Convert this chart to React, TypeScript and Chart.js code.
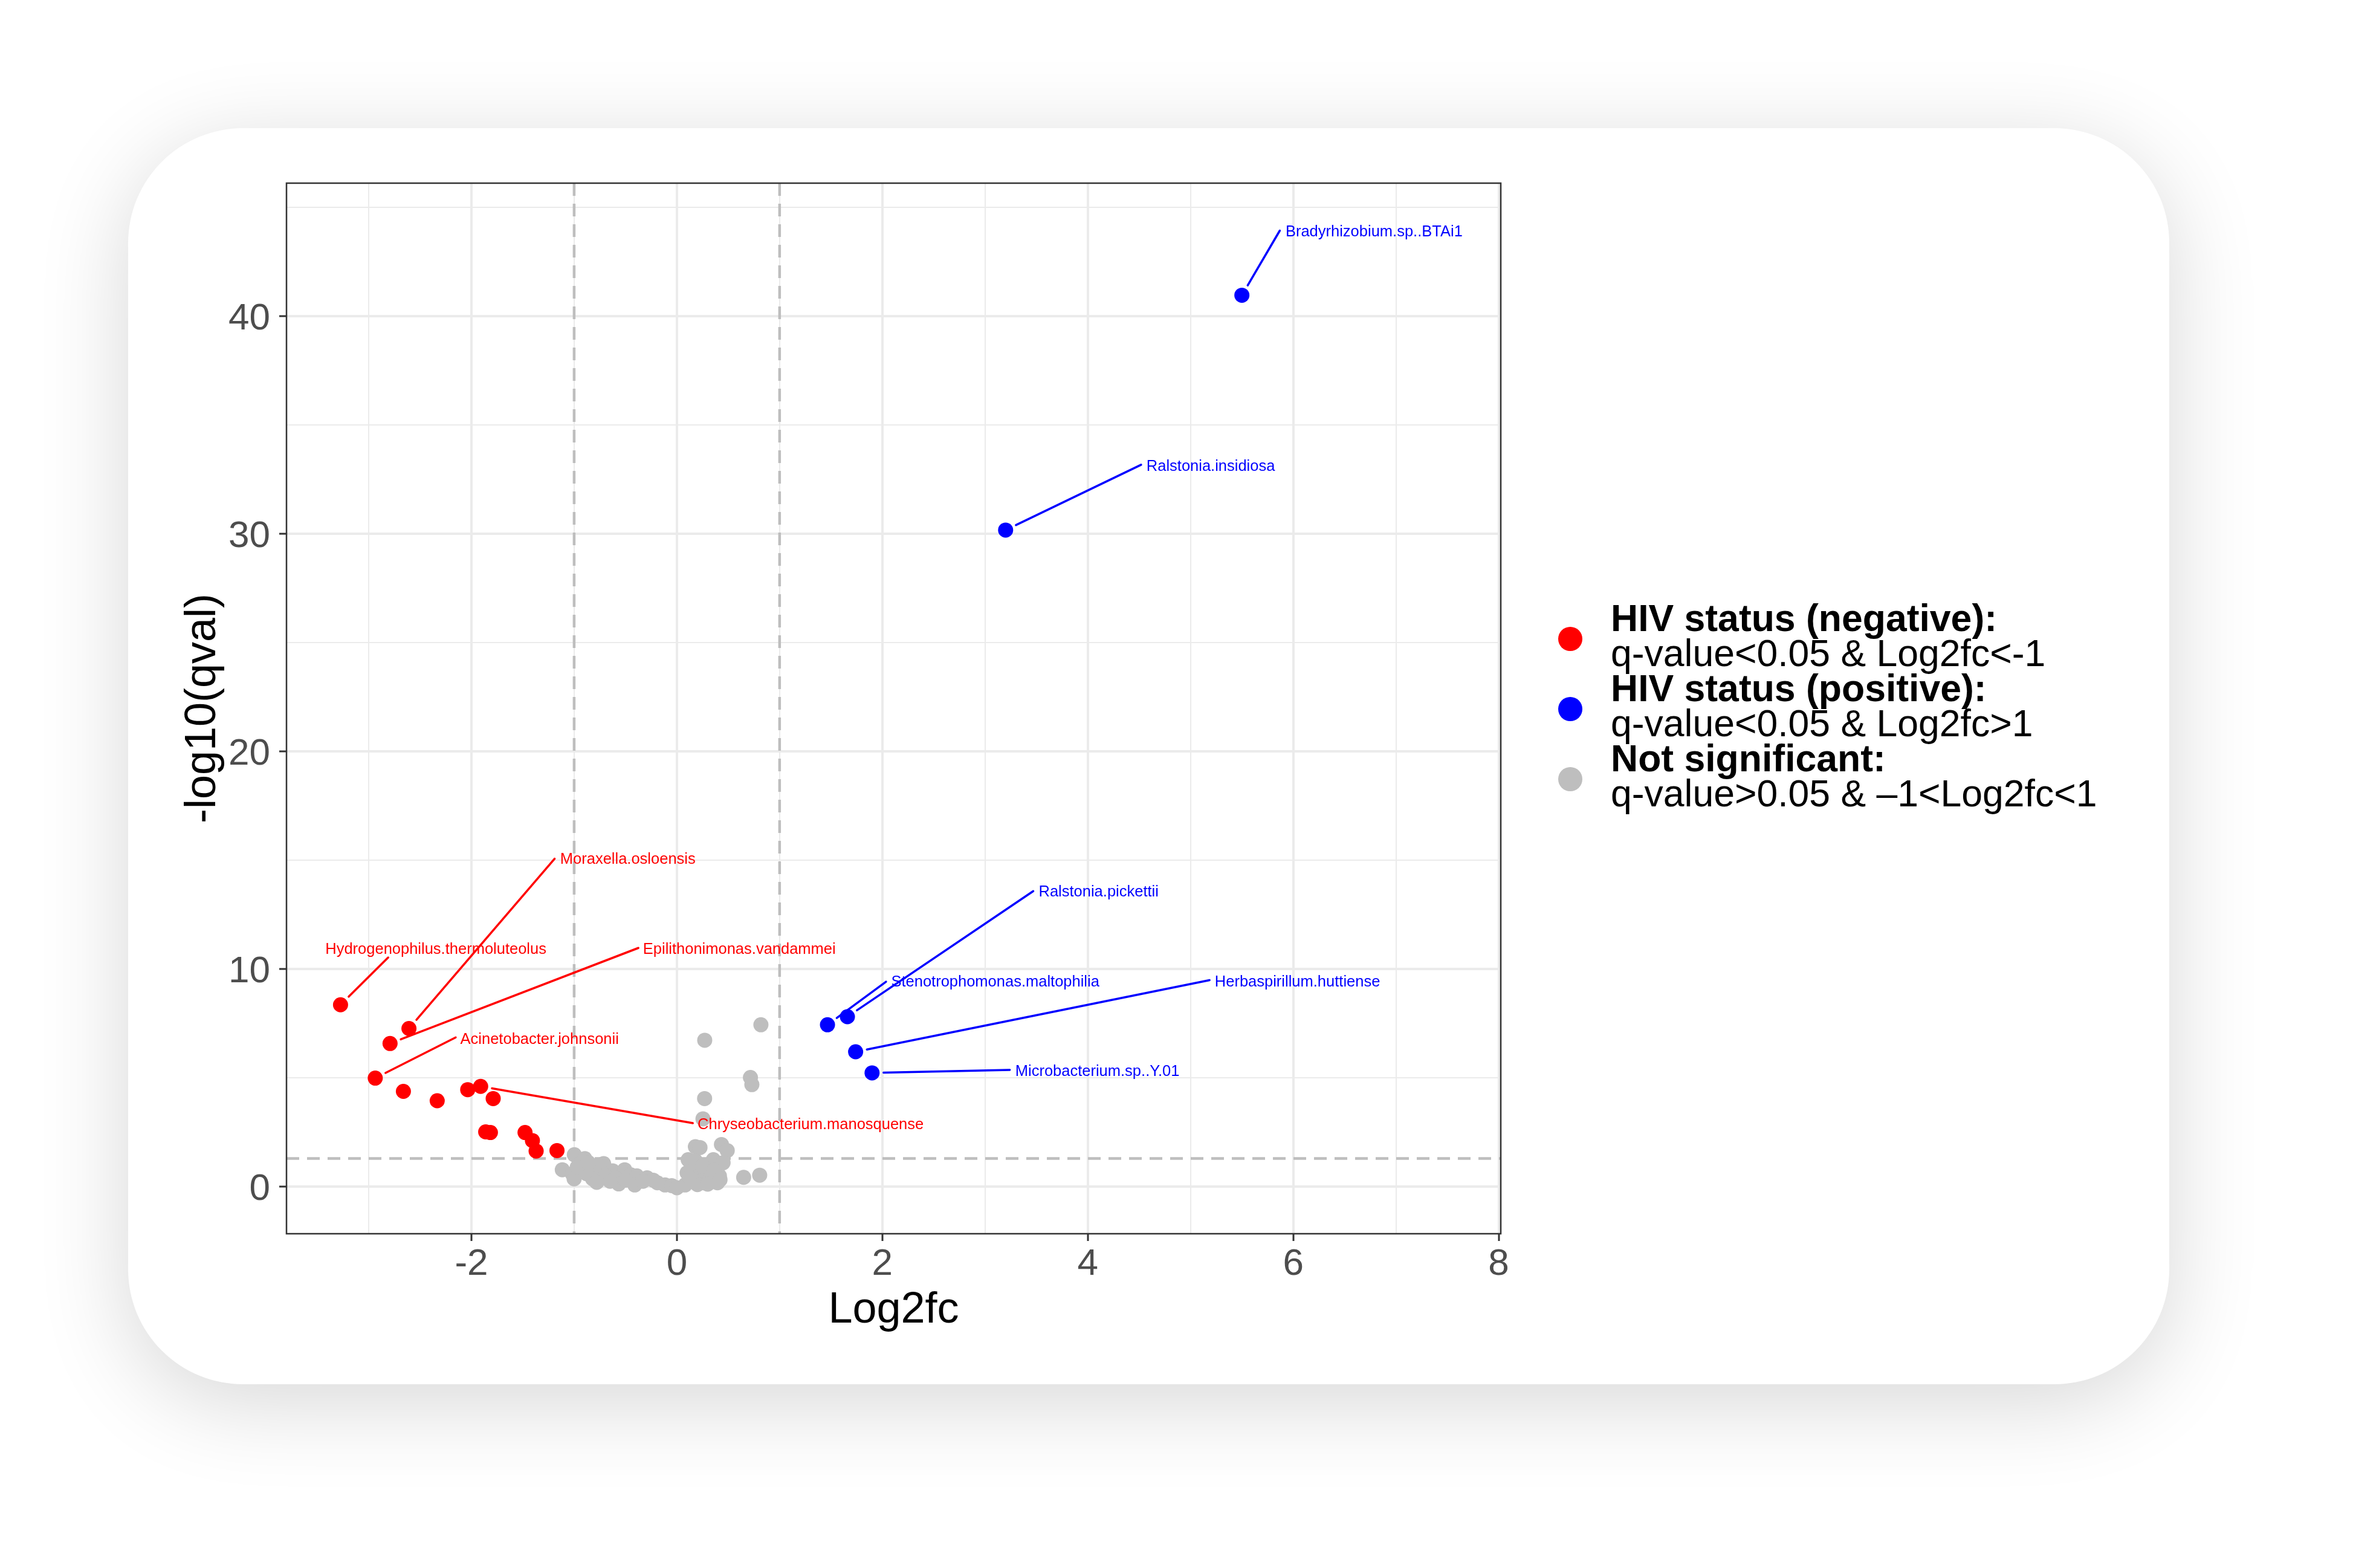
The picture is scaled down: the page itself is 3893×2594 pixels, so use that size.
import React, { useEffect, useRef } from 'react';
import { Chart, registerables } from 'chart.js';

Chart.register(...registerables);

const FONT = '"Liberation Sans", Arial, Helvetica, sans-serif';
const RED = '#FF0000';
const BLUE = '#0000FF';
const GRAY = '#BEBEBE';

// HIV status (negative): q<0.05 & Log2fc<-1
const negLog2fc = [-3.274, -2.608, -2.792, -2.936, -2.662, -2.333, -2.036, -1.91, -1.788, -1.861, -1.815, -1.478, -1.406, -1.37, -1.167];
const negQ = [8.36, 7.27, 6.58, 4.99, 4.38, 3.95, 4.46, 4.61, 4.05, 2.52, 2.49, 2.49, 2.12, 1.64, 1.66];

// HIV status (positive): q<0.05 & Log2fc>1
const posLog2fc = [1.466, 1.66, 1.74, 1.9, 3.2, 5.5];
const posQ = [7.44, 7.81, 6.2, 5.23, 30.17, 40.96];

// Not significant
const nsLog2fc = [
  0.818, 0.271, 0.716, 0.73, 0.27, 0.254, 0.18, 0.225, 0.434, 0.49,
  0.11, 0.18, 0.355, 0.45, 0.22, 0.1, 0.28, 0.414, 0.16, 0.257,
  0.316, 0.395, 0.08, 0.2, 0.3, 0.12, 0.25, 0.36, 0.42, 0.65,
  0.806, -0.998, -0.896, -1.115, -1.017, -1.0, -0.95, -0.82, -0.713, -0.82,
  -0.76, -0.625, -0.508, -0.566, -0.6, -0.45, -0.39, -0.29, -0.41, -0.33,
  -0.19, -0.23, -0.115, -0.05, 0.0, -0.7, -0.88, -0.97, -0.65, -0.5,
  -0.86, -0.78,
];
const nsQ = [
  7.44, 6.73, 5.02, 4.69, 4.05, 3.12, 1.84, 1.8, 1.94, 1.66,
  1.24, 1.19, 1.24, 1.1, 0.83, 0.64, 0.55, 0.5, 0.27, 0.18,
  0.27, 0.18, 0.08, 0.1, 0.12, 0.45, 0.95, 0.75, 0.32, 0.43,
  0.53, 1.47, 1.29, 0.78, 0.59, 0.36, 1.05, 0.36, 1.06, 0.83,
  0.95, 0.73, 0.78, 0.13, 0.4, 0.55, 0.5, 0.41, 0.08, 0.25,
  0.18, 0.3, 0.08, 0.05, -0.05, 0.5, 0.6, 0.9, 0.25, 0.3,
  1.1, 0.2,
];

// Labelled taxa (ggrepel-style labels)
const labelText = [
  'Bradyrhizobium.sp..BTAi1',
  'Ralstonia.insidiosa',
  'Ralstonia.pickettii',
  'Stenotrophomonas.maltophilia',
  'Herbaspirillum.huttiense',
  'Microbacterium.sp..Y.01',
  'Moraxella.osloensis',
  'Hydrogenophilus.thermoluteolus',
  'Epilithonimonas.vandammei',
  'Acinetobacter.johnsonii',
  'Chryseobacterium.manosquense',
];
const labelGroup = ['pos', 'pos', 'pos', 'pos', 'pos', 'pos', 'neg', 'neg', 'neg', 'neg', 'neg'];
const labelPoint = [5, 4, 1, 0, 2, 3, 1, 0, 2, 3, 7];
const labelTextX = [5.925, 4.571, 3.522, 2.086, 5.236, 3.294, -1.136, -3.422, -0.33, -2.108, 0.201];
const labelTextY = [43.93, 33.15, 13.58, 9.45, 9.45, 5.33, 15.08, 10.95, 10.94, 6.825, 2.9];
const segStartX = [5.869, 4.519, 3.469, 2.036, 5.185, 3.241, -1.19, -2.81, -0.375, -2.153, 0.155];
const segStartY = [43.93, 33.17, 13.58, 9.42, 9.49, 5.37, 15.07, 10.53, 10.97, 6.86, 2.92];

const xTickValues = [-3, -2, -1, 0, 1, 2, 3, 4, 5, 6, 7, 8];
const xTickLabels = ['', '-2', '', '0', '', '2', '', '4', '', '6', '', '8'];
const yTickValues = [0, 5, 10, 15, 20, 25, 30, 35, 40, 45];
const yTickLabels = ['0', '', '10', '', '20', '', '30', '', '40', ''];
const xRange = [-3.8, 8.02];
const yRange = [-2.16, 46.11];
const fcCutoffs = [-1, 1];
const qCutoff = 0.05;

const legendTitles = ['HIV status (negative):', 'HIV status (positive):', 'Not significant:'];
const legendDescs = ['q-value<0.05 & Log2fc<-1', 'q-value<0.05 & Log2fc>1', 'q-value>0.05 & \u20131<Log2fc<1'];
const legendColors = [RED, BLUE, GRAY];

const thresholdPlugin = {
  id: 'thresholds',
  beforeDatasetsDraw(chart: any) {
    const { ctx, chartArea: a, scales } = chart;
    const x = scales.x;
    const y = scales.y;
    ctx.save();
    ctx.beginPath();
    ctx.rect(a.left, a.top, a.right - a.left, a.bottom - a.top);
    ctx.clip();
    ctx.strokeStyle = GRAY;
    ctx.lineWidth = 4.5;
    ctx.setLineDash([21, 13]);
    fcCutoffs.forEach((v) => {
      const px = x.getPixelForValue(v);
      ctx.beginPath();
      ctx.moveTo(px, a.top);
      ctx.lineTo(px, a.bottom);
      ctx.stroke();
    });
    const py = y.getPixelForValue(-Math.log10(qCutoff));
    ctx.beginPath();
    ctx.moveTo(a.left, py);
    ctx.lineTo(a.right, py);
    ctx.stroke();
    ctx.restore();
  },
};

const labelPlugin = {
  id: 'repelLabels',
  afterDatasetsDraw(chart: any) {
    const { ctx, scales } = chart;
    const x = scales.x;
    const y = scales.y;
    ctx.save();
    ctx.font = `25.5px ${FONT}`;
    ctx.textBaseline = 'middle';
    ctx.textAlign = 'left';
    labelText.forEach((t, i) => {
      const isPos = labelGroup[i] === 'pos';
      const color = isPos ? BLUE : RED;
      const pxv = isPos ? posLog2fc[labelPoint[i]] : negLog2fc[labelPoint[i]];
      const pyv = isPos ? posQ[labelPoint[i]] : negQ[labelPoint[i]];
      const tx = x.getPixelForValue(pxv);
      const ty = y.getPixelForValue(pyv);
      const sx = x.getPixelForValue(segStartX[i]);
      const sy = y.getPixelForValue(segStartY[i]);
      const dx = tx - sx;
      const dy = ty - sy;
      const d = Math.hypot(dx, dy) || 1;
      const ex = tx - (dx / d) * 19;
      const ey = ty - (dy / d) * 19;
      ctx.strokeStyle = color;
      ctx.lineWidth = 3.5;
      ctx.lineCap = 'round';
      ctx.beginPath();
      ctx.moveTo(sx, sy);
      ctx.lineTo(ex, ey);
      ctx.stroke();
      ctx.fillStyle = color;
      ctx.fillText(t, x.getPixelForValue(labelTextX[i]), y.getPixelForValue(labelTextY[i]) + 2);
    });
    ctx.restore();
  },
};

const framePlugin = {
  id: 'panelFrame',
  afterDraw(chart: any) {
    const { ctx, chartArea: a } = chart;
    ctx.save();
    ctx.strokeStyle = '#333333';
    ctx.lineWidth = 2.5;
    ctx.strokeRect(a.left, a.top, a.right - a.left, a.bottom - a.top);
    ctx.restore();
  },
};

const legendPlugin = {
  id: 'sideLegend',
  afterDraw(chart: any) {
    const { ctx, chartArea: a } = chart;
    const dotX = a.right + 115;
    const textX = a.right + 182;
    const firstBaseline = a.top + 741;
    const step = 116;
    const lineGap = 57.5;
    ctx.save();
    ctx.textAlign = 'left';
    ctx.textBaseline = 'alphabetic';
    legendTitles.forEach((title, i) => {
      const base = firstBaseline + i * step;
      ctx.fillStyle = legendColors[i];
      ctx.beginPath();
      ctx.arc(dotX, base + 13, 20, 0, Math.PI * 2);
      ctx.fill();
      ctx.fillStyle = '#000000';
      ctx.font = `bold 62.5px ${FONT}`;
      ctx.fillText(title, textX, base);
      ctx.font = `62.5px ${FONT}`;
      ctx.fillText(legendDescs[i], textX, base + lineGap);
    });
    ctx.restore();
  },
};

export default function App() {
  const ref = useRef<HTMLCanvasElement>(null);

  useEffect(() => {
    const canvas = ref.current;
    if (!canvas) return;
    const toPts = (xs: number[], ys: number[]) => xs.map((v, i) => ({ x: v, y: ys[i] }));
    const pointStyle = { pointRadius: 12.5, pointHoverRadius: 12.5, borderWidth: 0 };
    const chart = new Chart(canvas, {
      type: 'scatter',
      data: {
        datasets: [
          { label: legendTitles[0], data: toPts(negLog2fc, negQ), backgroundColor: RED, ...pointStyle },
          { label: legendTitles[1], data: toPts(posLog2fc, posQ), backgroundColor: BLUE, ...pointStyle },
          { label: legendTitles[2], data: toPts(nsLog2fc, nsQ), backgroundColor: GRAY, ...pointStyle },
        ],
      },
      options: {
        responsive: false,
        animation: false,
        devicePixelRatio: 1,
        events: [],
        layout: { padding: { left: 0, top: 303, right: 1410, bottom: 353 } },
        plugins: { legend: { display: false }, tooltip: { enabled: false } },
        scales: {
          x: {
            type: 'linear',
            min: xRange[0],
            max: xRange[1],
            afterBuildTicks: (s: any) => {
              s.ticks = xTickValues.map((v) => ({ value: v }));
            },
            afterFit: (s: any) => {
              s.height = 200;
            },
            ticks: {
              callback: (_v: any, i: number) => xTickLabels[i] ?? '',
              autoSkip: false,
              maxRotation: 0,
              color: '#4D4D4D',
              font: { size: 62, lineHeight: 1, family: FONT },
              padding: 8,
            },
            grid: {
              color: '#EBEBEB',
              lineWidth: (c: any) => (xTickLabels[c.index] ? 4 : 2),
              tickLength: 12,
              tickWidth: 3,
              tickColor: (c: any) => (xTickLabels[c.index] ? '#333333' : 'rgba(0,0,0,0)'),
            },
            border: { display: false },
            title: {
              display: true,
              text: 'Log2fc',
              color: '#000000',
              font: { size: 72, family: FONT },
              padding: { top: 0, bottom: 30 },
            },
          },
          y: {
            type: 'linear',
            min: yRange[0],
            max: yRange[1],
            afterBuildTicks: (s: any) => {
              s.ticks = yTickValues.map((v) => ({ value: v }));
            },
            afterFit: (s: any) => {
              s.width = 474;
            },
            ticks: {
              callback: (_v: any, i: number) => yTickLabels[i] ?? '',
              autoSkip: false,
              color: '#4D4D4D',
              font: { size: 62, lineHeight: 1, family: FONT },
              padding: 15,
              labelOffset: 5,
            },
            grid: {
              color: '#EBEBEB',
              lineWidth: (c: any) => (yTickLabels[c.index] ? 4 : 2),
              tickLength: 12,
              tickWidth: 3,
              tickColor: (c: any) => (yTickLabels[c.index] ? '#333333' : 'rgba(0,0,0,0)'),
            },
            border: { display: false },
            title: {
              display: true,
              text: '-log10(qval)',
              color: '#000000',
              font: { size: 72, family: FONT },
              padding: { top: 293, bottom: 0 },
            },
          },
        },
      } as any,
      plugins: [thresholdPlugin, labelPlugin, framePlugin, legendPlugin],
    });
    return () => chart.destroy();
  }, []);

  return (
    <div
      style={{
        position: 'fixed',
        left: 0,
        top: 0,
        width: 3893,
        height: 2594,
        overflow: 'hidden',
        background: '#FFFFFF',
        fontFamily: FONT,
      }}
    >
      <div
        style={{
          position: 'absolute',
          left: 212,
          top: 212,
          width: 3377,
          height: 2078,
          borderRadius: 190,
          background: '#FFFFFF',
          boxShadow: '0 30px 150px rgba(0,0,0,0.16)',
        }}
      />
      <canvas
        ref={ref}
        width={3893}
        height={2594}
        style={{ position: 'absolute', left: 0, top: 0, width: 3893, height: 2594 }}
      />
    </div>
  );
}
